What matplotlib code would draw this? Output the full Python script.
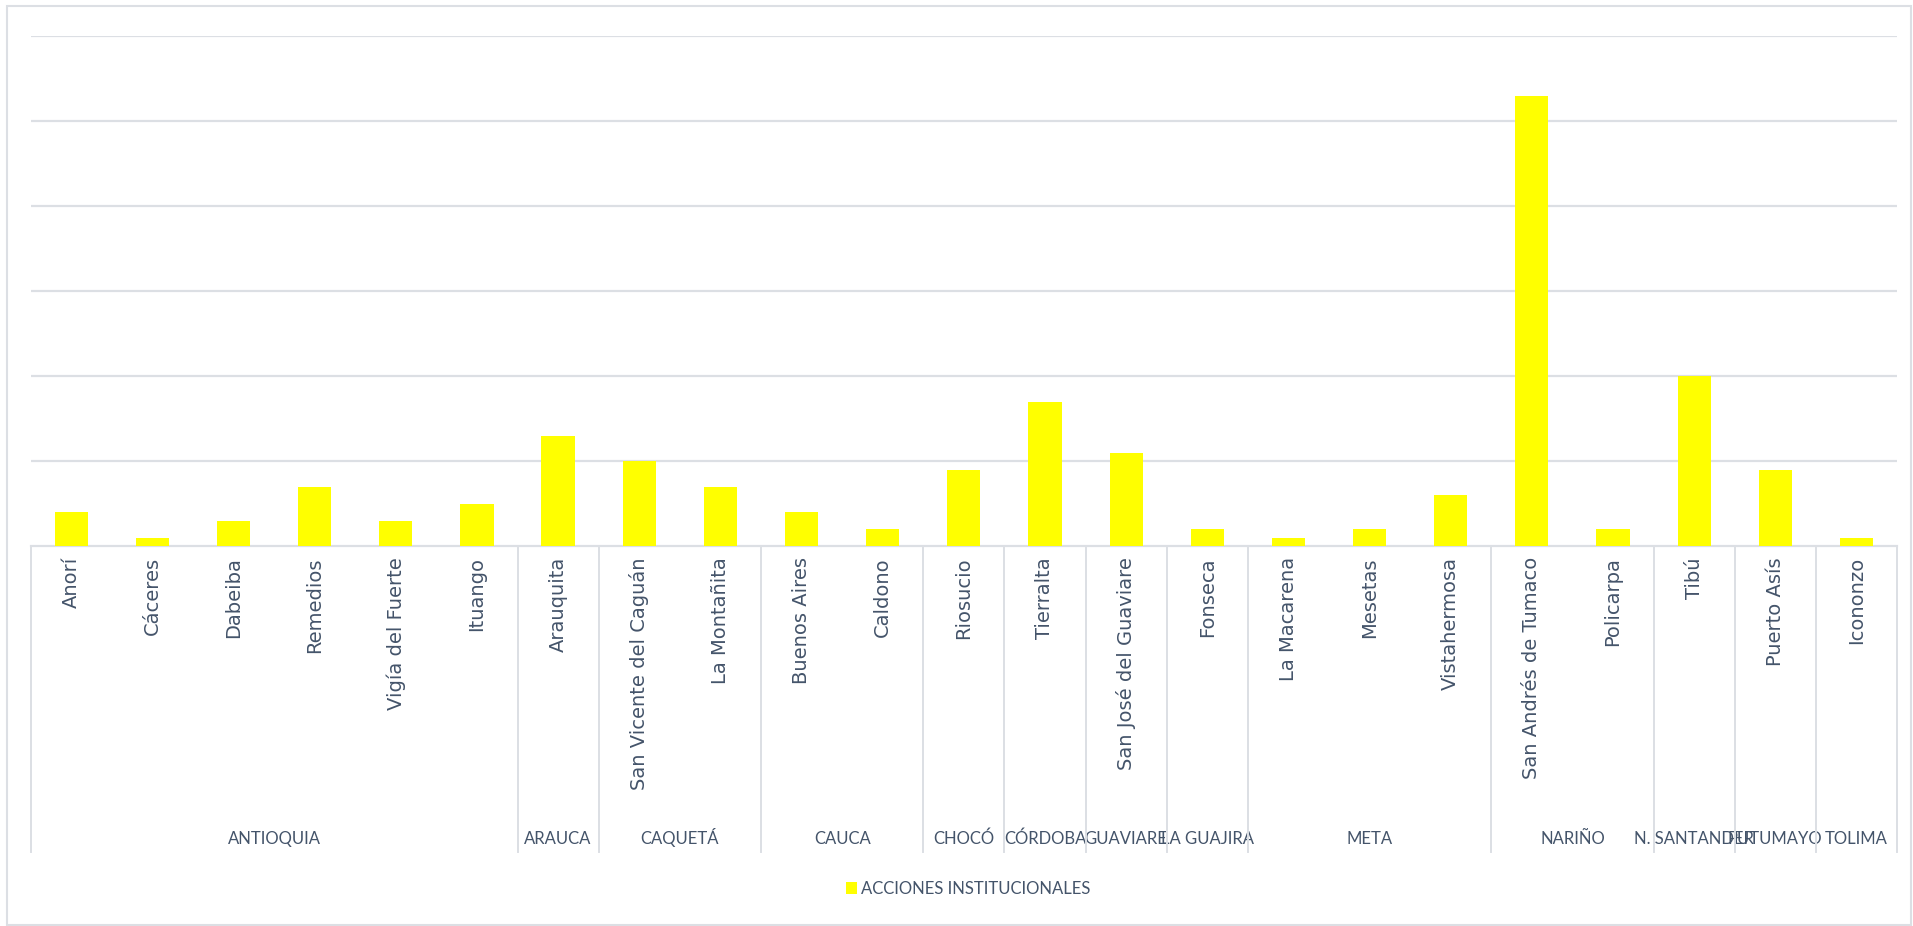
import matplotlib
matplotlib.use("Agg")
import matplotlib.pyplot as plt
from matplotlib.patches import Rectangle
from matplotlib.lines import Line2D
import matplotlib.transforms as mtransforms

# ---- data ----
municipios = ["Anorí", "Cáceres", "Dabeiba", "Remedios", "Vigía del Fuerte", "Ituango",
              "Arauquita", "San Vicente del Caguán", "La Montañita", "Buenos Aires", "Caldono",
              "Riosucio", "Tierralta", "San José del Guaviare", "Fonseca", "La Macarena",
              "Mesetas", "Vistahermosa", "San Andrés de Tumaco", "Policarpa", "Tibú",
              "Puerto Asís", "Icononzo"]
acciones = [4, 1, 3, 7, 3, 5, 13, 10, 7, 4, 2, 9, 17, 11, 2, 1, 2, 6, 53, 2, 20, 9, 1]
departamentos = ["ANTIOQUIA", "ARAUCA", "CAQUETÁ", "CAUCA", "CHOCÓ", "CÓRDOBA", "GUAVIARE",
                 "LA GUAJIRA", "META", "NARIÑO", "N. SANTANDER", "PUTUMAYO", "TOLIMA"]
municipios_por_depto = [6, 1, 2, 2, 1, 1, 1, 1, 3, 2, 1, 1, 1]
serie = "ACCIONES INSTITUCIONALES"

# ---- style ----
W, H = 1913, 926
TEXT = "#44546A"
GRID = "#DCDFE4"
BAR = "#FFFF00"
narrow = ["Lato", "DejaVu Sans"]

fig = plt.figure(figsize=(W / 100, H / 100), dpi=100)
fig.patch.set_facecolor("white")

left_px, right_px = 30.7, 1897
top_px, base_px = 36, 546
ax = fig.add_axes([left_px / W, 1 - base_px / H, (right_px - left_px) / W, (base_px - top_px) / H])

x = list(range(len(municipios)))
ax.bar(x, acciones, width=0.41, color=BAR, zorder=3, label=serie)
ax.set_xlim(-0.5, len(municipios) - 0.5)
ax.set_ylim(0, 60)
ax.set_yticks(range(10, 61, 10))
ax.yaxis.grid(True, color=GRID, linewidth=1.6, zorder=0)
ax.tick_params(axis="y", left=False, labelleft=False)
for s in ["top", "left", "right"]:
    ax.spines[s].set_visible(False)
ax.spines["bottom"].set_color(GRID)
ax.spines["bottom"].set_linewidth(1.6)

ax.set_xticks(x)
ax.set_xticklabels(municipios, rotation=90, fontsize=14, color=TEXT, va="top", ha="center")
ax.tick_params(axis="x", length=0, pad=8)

# group separators and labels
trans = mtransforms.blended_transform_factory(ax.transData, fig.transFigure)
y_bot = 1 - 851.7 / H
y_top = 1 - base_px / H
y_lab = 1 - 844 / H
start = -0.5
bounds = [start]
for dep, n in zip(departamentos, municipios_por_depto):
    end = start + n
    bounds.append(end)
    ax.text((start + end) / 2, y_lab, dep, transform=trans, ha="center", va="baseline",
            fontsize=12, color=TEXT, family=narrow)
    start = end
for b in bounds:
    fig.add_artist(Line2D([b, b], [y_bot, y_top], transform=trans, color=GRID, linewidth=1.4))

# legend
leg = fig.legend(loc="center", bbox_to_anchor=(968 / W, 1 - 889 / H), frameon=False,
                 handlelength=0.7, handleheight=0.7, handletextpad=0.2,
                 prop={"family": narrow, "size": 12})
for t in leg.get_texts():
    t.set_color(TEXT)

# outer chart border
fig.add_artist(Rectangle((7 / W, 1 / H), (W - 9) / W, (H - 7) / H, transform=fig.transFigure,
                         fill=False, edgecolor=GRID, linewidth=1.5))

fig.savefig("out.png", dpi=100)
